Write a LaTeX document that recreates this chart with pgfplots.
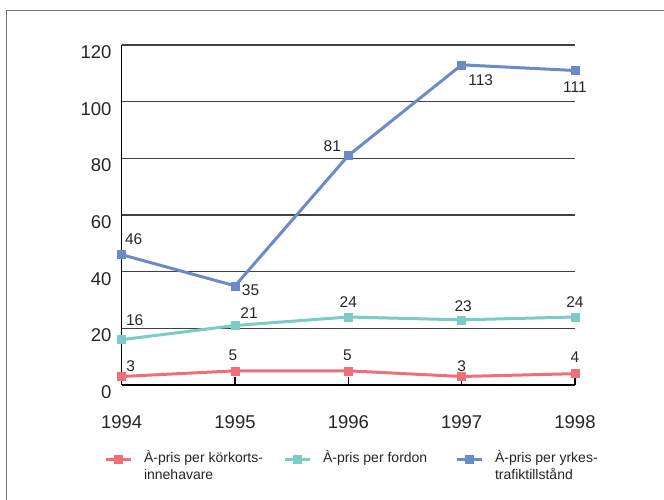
\documentclass[border=0pt]{standalone}
\usepackage{fontspec}
\setmainfont{Liberation Sans}
\usepackage{pgfplots}
\pgfplotsset{compat=1.18}
\definecolor{cRed}{HTML}{F06E78}
\definecolor{cTeal}{HTML}{7ACCC4}
\definecolor{cBlue}{HTML}{6A8AC8}

\begin{document}
\begin{tikzpicture}[x=1pt,y=1pt]
\useasboundingbox (0,0) rectangle (664,499);
\draw[line width=1.6pt, black!55] (6.5,-2) -- (6.5,488.5) -- (666,488.5);
\begin{axis}[
  at={(121.7pt,114pt)}, anchor=south west,
  scale only axis, width=453.3pt, height=340pt,
  xmin=1994, xmax=1998, ymin=0, ymax=120,
  xtick={1994,1995,1996,1997,1998},
  ytick={0,20,40,60,80,100,120},
  axis lines*=left,
  axis line style={black, line width=1.3pt},
  xtick align=inside,
  major tick length=8pt,
  every x tick/.append style={black, line width=1.3pt},
  every y tick/.append style={draw=none},
  ymajorgrids=true,
  major grid style={black!75, line width=1.4pt},
  /pgf/number format/assume math mode=true,
  /pgf/number format/1000 sep={},
  ticklabel style={font=\fontsize{18.5}{20}\selectfont, text=black!85},
  yticklabel style={anchor=east, inner sep=0pt, xshift=-10pt, yshift=-7pt},
  xticklabel style={anchor=north, inner sep=0pt, yshift=-30pt},
  clip=false,
  every axis plot/.append style={line width=3pt, mark=square*, mark size=4pt},
  legend columns=3,
  legend style={draw=none, fill=none, inner sep=0pt, outer sep=0pt,
    at={(axis description cs:-0.039,-0.191)}, anchor=north west,
    font=\fontsize{14}{17.5}\selectfont, text=black!85,
    nodes={inner sep=0pt, anchor=base west},
    /tikz/every odd column/.append style={column sep=12pt},
    /tikz/every even column/.append style={column sep=12pt}},
  legend image code/.code={\draw[mark repeat=2, mark phase=2, #1] plot coordinates {(0pt,3pt) (12.5pt,3pt) (25pt,3pt)};},
]
\addplot[cRed, mark options={fill=cRed, draw=cRed, line width=0.5pt}] coordinates {
  (1994,3) (1995,5) (1996,5) (1997,3) (1998,4)};
\addlegendentry{\parbox[t]{127pt}{À-pris per körkorts-\\innehavare}}
\addplot[cTeal, mark options={fill=cTeal, draw=cTeal, line width=0.5pt}] coordinates {
  (1994,16) (1995,21) (1996,24) (1997,23) (1998,24)};
\addlegendentry{\parbox[t]{120pt}{À-pris per fordon}}
\addplot[cBlue, mark options={fill=cBlue, draw=cBlue, line width=0.5pt}] coordinates {
  (1994,46) (1995,35) (1996,81) (1997,113) (1998,111)};
\addlegendentry{\parbox[t]{130pt}{À-pris per yrkes-\\trafiktillstånd}}

\tikzset{lab/.style={font=\fontsize{15.5}{17}\selectfont, text=black!85, inner sep=0pt, anchor=center}}
\node[lab, xshift=9pt, yshift=10.5pt] at (axis cs:1994,3) {3};
\node[lab, xshift=-2pt, yshift=16pt] at (axis cs:1995,5) {5};
\node[lab, xshift=-1pt, yshift=15.5pt] at (axis cs:1996,5) {5};
\node[lab, xshift=0pt, yshift=10.5pt] at (axis cs:1997,3) {3};
\node[lab, xshift=0pt, yshift=16.5pt] at (axis cs:1998,4) {4};

\node[lab, xshift=13pt, yshift=19.5pt] at (axis cs:1994,16) {16};
\node[lab, xshift=14pt, yshift=12.7pt] at (axis cs:1995,21) {21};
\node[lab, xshift=0pt, yshift=15pt] at (axis cs:1996,24) {24};
\node[lab, xshift=1.5pt, yshift=13.5pt] at (axis cs:1997,23) {23};
\node[lab, xshift=0pt, yshift=15pt] at (axis cs:1998,24) {24};

\node[lab, xshift=12pt, yshift=16pt] at (axis cs:1994,46) {46};
\node[lab, xshift=15.5pt, yshift=-4pt] at (axis cs:1995,35) {35};
\node[lab, xshift=-16pt, yshift=9.5pt] at (axis cs:1996,81) {81};
\node[lab, xshift=19pt, yshift=-15pt] at (axis cs:1997,113) {113};
\node[lab, xshift=0pt, yshift=-16.5pt] at (axis cs:1998,111) {111};
\end{axis}
\end{tikzpicture}
\end{document}
